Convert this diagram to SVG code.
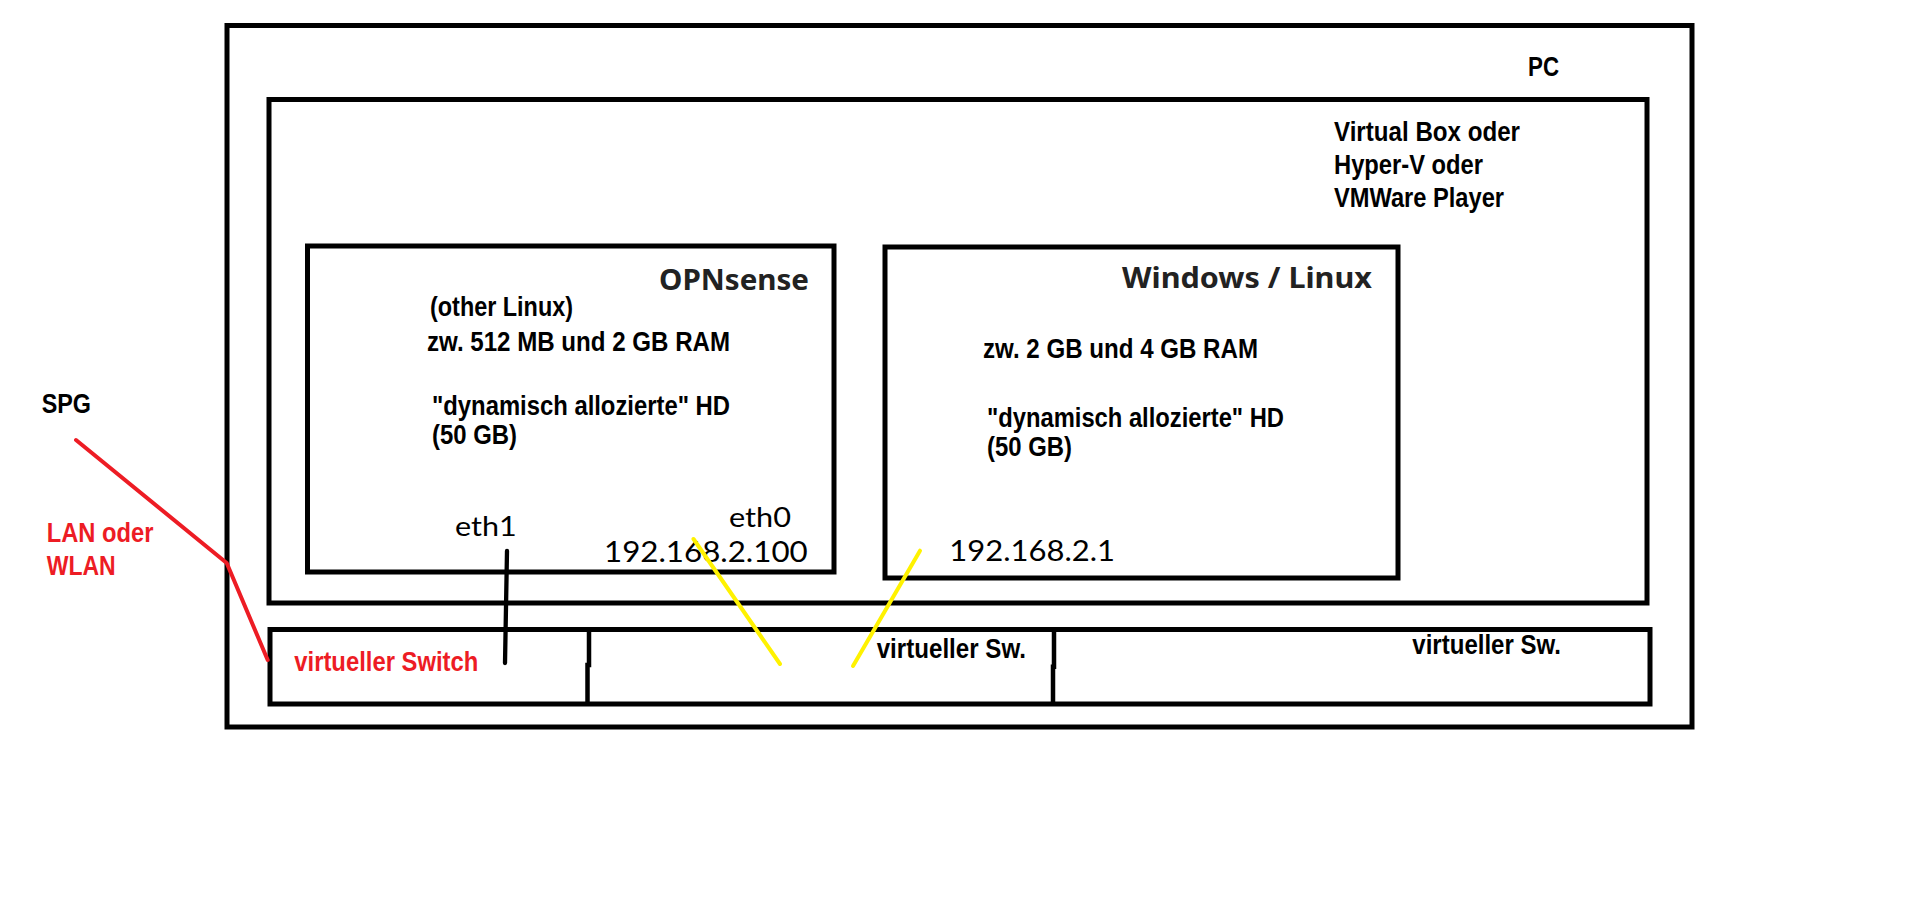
<svg xmlns="http://www.w3.org/2000/svg" width="1914" height="918" viewBox="0 0 1914 918">
<style>
.box{fill:none;stroke:#000;stroke-width:5}
.div{fill:none;stroke:#000;stroke-width:4.5}
.a{font-family:"Liberation Sans",Arial,sans-serif;font-weight:bold;font-size:27px;fill:#000}
.red{fill:#ED1C24}
.h{font-family:"Noto Sans","Open Sans",sans-serif;font-weight:bold;font-size:28px;fill:#222}
.c{font-family:Lato,"Open Sans",sans-serif;font-weight:normal;fill:#000}
.redline{fill:none;stroke:#ED1C24;stroke-width:4;stroke-linecap:round;stroke-linejoin:round}
.blkline{fill:none;stroke:#000;stroke-width:4.3;stroke-linecap:round}
.yel{fill:none;stroke:#FFF200;stroke-width:4;stroke-linecap:round}
</style>
<rect width="1914" height="918" fill="#fff"/>
<g id="pc">
<rect class="box" x="227" y="25.5" width="1465" height="701.5"/>
<text class="a" x="1528" y="76" textLength="31" lengthAdjust="spacingAndGlyphs">PC</text>
</g>
<g id="hypervisor">
<rect class="box" x="269" y="99.5" width="1378" height="503.5"/>
<text class="a" x="1334" y="140.7" textLength="186" lengthAdjust="spacingAndGlyphs">Virtual Box oder</text>
<text class="a" x="1334" y="173.5" textLength="149" lengthAdjust="spacingAndGlyphs">Hyper-V oder</text>
<text class="a" x="1334" y="206.5" textLength="170" lengthAdjust="spacingAndGlyphs">VMWare Player</text>
</g>
<g id="opnsense">
<rect class="box" x="307.5" y="246" width="526.5" height="326"/>
<text class="h" x="659" y="290" textLength="150" lengthAdjust="spacingAndGlyphs">OPNsense</text>
<text class="a" x="430" y="315.7" textLength="143" lengthAdjust="spacingAndGlyphs">(other Linux)</text>
<text class="a" x="427" y="351" textLength="303" lengthAdjust="spacingAndGlyphs">zw. 512 MB und 2 GB RAM</text>
<text class="a" x="432" y="415" textLength="298" lengthAdjust="spacingAndGlyphs">"dynamisch allozierte" HD</text>
<text class="a" x="432" y="444.3" textLength="85" lengthAdjust="spacingAndGlyphs">(50 GB)</text>
<text class="c" x="455" y="535.7" font-size="26" textLength="61.7" lengthAdjust="spacingAndGlyphs">eth1</text>
<text class="c" x="729" y="526.7" font-size="26" textLength="62" lengthAdjust="spacingAndGlyphs">eth0</text>
<text class="c" x="604" y="561.7" font-size="29" textLength="203.7" lengthAdjust="spacingAndGlyphs">192.168.2.100</text>
</g>
<g id="windows">
<rect class="box" x="885" y="247" width="513" height="331"/>
<text class="h" x="1122" y="287.5" textLength="250" lengthAdjust="spacingAndGlyphs">Windows / Linux</text>
<text class="a" x="983" y="357.7" textLength="275" lengthAdjust="spacingAndGlyphs">zw. 2 GB und 4 GB RAM</text>
<text class="a" x="987" y="426.7" textLength="297" lengthAdjust="spacingAndGlyphs">"dynamisch allozierte" HD</text>
<text class="a" x="987" y="456" textLength="85" lengthAdjust="spacingAndGlyphs">(50 GB)</text>
<text class="c" x="949.3" y="560.7" font-size="29" textLength="165.7" lengthAdjust="spacingAndGlyphs">192.168.2.1</text>
</g>
<g id="vswitch">
<rect class="box" x="270" y="629.5" width="1380" height="74.5"/>
<polyline class="div" points="589,630 589,665 587.5,665 587.5,704"/>
<polyline class="div" points="1054,630 1054,666.7 1053,666.7 1053,704"/>
<text class="a red" x="294.3" y="670.7" textLength="184" lengthAdjust="spacingAndGlyphs">virtueller Switch</text>
<text class="a" x="876.7" y="657.7" textLength="149.3" lengthAdjust="spacingAndGlyphs">virtueller Sw.</text>
<text class="a" x="1412.3" y="654.3" textLength="148.7" lengthAdjust="spacingAndGlyphs">virtueller Sw.</text>
</g>
<g id="spg">
<text class="a" x="41.7" y="413.3" textLength="49.3" lengthAdjust="spacingAndGlyphs">SPG</text>
</g>
<g id="lan-label">
<text class="a red" x="46.7" y="542.3" textLength="106.7" lengthAdjust="spacingAndGlyphs">LAN oder</text>
<text class="a red" x="46.7" y="575" textLength="69" lengthAdjust="spacingAndGlyphs">WLAN</text>
</g>
<g id="connectors">
<polyline class="redline" points="76,440 226.7,563 267.7,660"/>
<polyline class="blkline" points="507,551 506,607 505,663"/>
<line class="yel" x1="693.5" y1="539" x2="780" y2="664"/>
<line class="yel" x1="920" y1="550.7" x2="853" y2="666"/>
</g>
</svg>
